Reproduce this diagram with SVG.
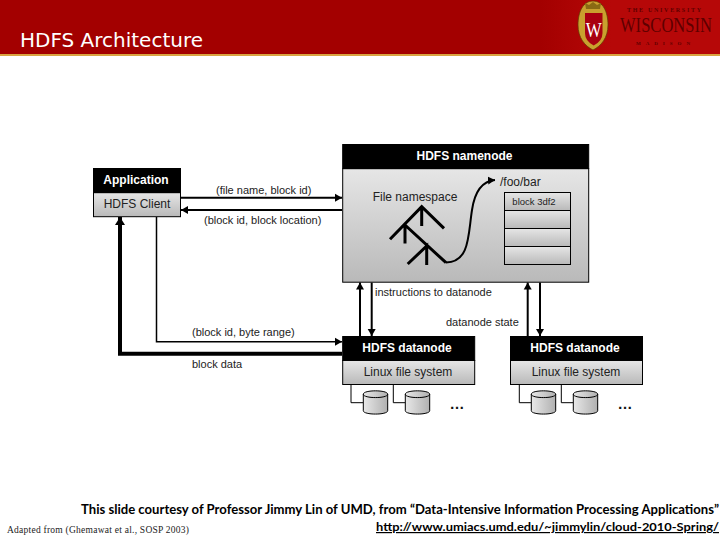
<svg xmlns="http://www.w3.org/2000/svg" width="720" height="540" viewBox="0 0 720 540">
<style>
.lb{font-family:"Liberation Sans",Arial,sans-serif;font-size:11px;fill:#222}
.nd{font-family:"Liberation Sans",Arial,sans-serif;font-size:12px;fill:#222}
.hd{font-family:"Liberation Sans",Arial,sans-serif;font-size:12px;font-weight:bold;fill:#fff}
.blk{fill:#000;stroke:#000}
.box{fill:url(#g);stroke:#000;stroke-width:1}
.ln{fill:none;stroke:#000}
.ft{font-family:Lato,"Open Sans",sans-serif;font-size:13px;font-weight:700;fill:#000}
.lg{font-family:"Liberation Serif",serif;fill:#5e0000}
.dots{font-family:"Liberation Sans",sans-serif;font-size:15px;font-weight:bold;fill:#111}
</style>
<defs>
<linearGradient id="g" x1="0" y1="0" x2="0" y2="1"><stop offset="0" stop-color="#e6e6e6"/><stop offset="1" stop-color="#b9b9b9"/></linearGradient>
<linearGradient id="c" x1="0" y1="0" x2="1" y2="0"><stop offset="0" stop-color="#e8e8e8"/><stop offset="1" stop-color="#b0b0b0"/></linearGradient>
<linearGradient id="h" x1="0" y1="0" x2="1" y2="0"><stop offset="0.75" stop-color="#a30000"/><stop offset="0.85" stop-color="#b60808"/></linearGradient>
<marker id="a" markerUnits="userSpaceOnUse" markerWidth="10" markerHeight="10" refX="7" refY="4.500" orient="auto"><path d="M0 .5L7 4.500L0 8.500Z"/></marker>
<marker id="t" markerUnits="userSpaceOnUse" markerWidth="12" markerHeight="12" refX="9" refY="6" orient="auto"><path d="M1 1L9 6L1 11Z"/></marker>
<g id="cyl"><path d="M0 3.5C0 -1 24.400 -1 24.400 3.500V20C24.400 24.500 0 24.500 0 20Z" fill="url(#c)" stroke="#000"/><path d="M0 3.500C0 8 24.400 8 24.400 3.500" fill="none" stroke="#000"/></g>
</defs>

<g id="header">
<rect x="0" y="0" width="720" height="54" fill="url(#h)"/>
<rect x="0" y="54" width="720" height="2" fill="#d9a441"/>
<text x="20" y="46.500" font-family="'DejaVu Sans',sans-serif" font-size="19.500px" fill="#fff" textLength="183" lengthAdjust="spacingAndGlyphs">HDFS Architecture</text>
</g>

<g id="logo">
<path d="M593 1C603 1 608 12 608 25C608 38 601 46 593 50C585 46 578 38 578 25C578 12 583 1 593 1Z" fill="#c9a02e" stroke="#5e3a00" stroke-width=".7"/>
<path d="M586 9L585 3L589 5L593 2L597 5L601 3L600 9Z" fill="#8a6a14"/>
<path d="M585 13H602.500V33Q602.500 41 593.700 45.500Q585 41 585 33Z" fill="#a80010"/>
<text x="593.800" y="37" text-anchor="middle" font-family="'Liberation Serif',serif" font-size="22px" fill="#fff" textLength="16" lengthAdjust="spacingAndGlyphs">W</text>
<text class="lg" x="627" y="12" font-size="6px" font-weight="bold" textLength="74">THE UNIVERSITY</text>
<text class="lg" transform="translate(620 32) scale(.84 1)" font-size="20px" textLength="109.500" lengthAdjust="spacingAndGlyphs">WISCONSIN</text>
<text class="lg" x="636" y="45" font-size="5px" font-weight="bold" textLength="54">MADISON</text>
</g>

<g id="connectors">
<path class="ln" stroke-width="2" d="M181 197.700H342" marker-end="url(#a)"/>
<path class="ln" stroke-width="2" d="M342 210H181" marker-end="url(#a)"/>
<path class="ln" stroke-width="1.500" d="M156.500 217V341.700H342" marker-end="url(#a)"/>
<path class="ln" stroke-width="4" d="M342 353.700H120V217" marker-end="url(#t)"/>
<path class="ln" stroke-width="2" d="M360 336V282.500" marker-end="url(#a)"/>
<path class="ln" stroke-width="2" d="M371.700 282.500V336" marker-end="url(#a)"/>
<path class="ln" stroke-width="2" d="M527.700 336V282.500" marker-end="url(#a)"/>
<path class="ln" stroke-width="2" d="M540 282.500V336" marker-end="url(#a)"/>
<path class="ln" d="M351 384.500V402.700H363.500M393.300 384.500V402.700H405.500M519.300 384.500V402.700H531.500M561.300 384.500V402.700H573.500"/>
</g>

<g id="application">
<rect class="box" x="93.500" y="192.700" width="87" height="24"/>
<rect class="blk" x="93.500" y="168.500" width="87" height="24"/>
<text class="hd" x="136" y="184" text-anchor="middle">Application</text>
<text class="nd" x="137" y="208" text-anchor="middle">HDFS Client</text>
</g>

<g id="namenode">
<rect class="box" x="342.700" y="168.700" width="246" height="113.500"/>
<rect class="blk" x="342.700" y="144.500" width="246" height="24"/>
<text class="hd" x="464.500" y="160" text-anchor="middle">HDFS namenode</text>
<text class="nd" x="415" y="201" text-anchor="middle">File namespace</text>
<text class="nd" x="500" y="186">/foo/bar</text>
<g stroke="#000" fill="url(#g)">
<rect x="504.500" y="192.500" width="66" height="18"/>
<rect x="504.500" y="210.500" width="66" height="18"/>
<rect x="504.500" y="228.500" width="66" height="18"/>
<rect x="504.500" y="246.500" width="66" height="18"/>
</g>
<text x="534" y="205" text-anchor="middle" font-family="'Liberation Sans',sans-serif" font-size="9.500px" fill="#222">block 3df2</text>
<path class="ln" stroke-width="3" d="M390 239.300L421.700 206.700L444 228.300M421.700 206.700V226M405 225L446 262.700M405 225V243.500M407.700 264L426.700 246V265"/>
<path class="ln" stroke-width="2" d="M446 262.500C470 262 468 235 472 210C475 190 483 181 495 180" marker-end="url(#a)"/>
</g>

<g id="datanode1">
<rect class="box" x="342.700" y="360.500" width="132" height="24"/>
<rect class="blk" x="342.700" y="336.500" width="132" height="24"/>
<text class="hd" x="407" y="352" text-anchor="middle">HDFS datanode</text>
<text class="nd" x="408" y="376" text-anchor="middle">Linux file system</text>
<use href="#cyl" x="363.300" y="390.700"/>
<use href="#cyl" x="405.300" y="390.700"/>
<text class="dots" x="457" y="409" text-anchor="middle">…</text>
</g>

<g id="datanode2">
<rect class="box" x="510.500" y="360.500" width="132" height="24"/>
<rect class="blk" x="510.500" y="336.500" width="132" height="24"/>
<text class="hd" x="575" y="352" text-anchor="middle">HDFS datanode</text>
<text class="nd" x="576" y="376" text-anchor="middle">Linux file system</text>
<use href="#cyl" x="531.300" y="390.700"/>
<use href="#cyl" x="573.300" y="390.700"/>
<text class="dots" x="625" y="409" text-anchor="middle">…</text>
</g>

<g id="labels">
<text class="lb" x="216" y="194">(file name, block id)</text>
<text class="lb" x="204" y="224">(block id, block location)</text>
<text class="lb" x="375" y="296">instructions to datanode</text>
<text class="lb" x="446" y="326">datanode state</text>
<text class="lb" x="192" y="336">(block id, byte range)</text>
<text class="lb" x="192" y="368">block data</text>
</g>

<g id="footer">
<text class="ft" x="81" y="514" textLength="638" lengthAdjust="spacingAndGlyphs">This slide courtesy of Professor Jimmy Lin of UMD, from “Data-Intensive Information Processing Applications”</text>
<text class="ft" x="376" y="531" style="font-size:12px" textLength="343" lengthAdjust="spacingAndGlyphs" text-decoration="underline">http://www.umiacs.umd.edu/~jimmylin/cloud-2010-Spring/</text>
<text x="7" y="533" font-family="'Liberation Serif',serif" font-size="9.500px" fill="#222" textLength="182">Adapted from (Ghemawat et al., SOSP 2003)</text>
</g>
</svg>
